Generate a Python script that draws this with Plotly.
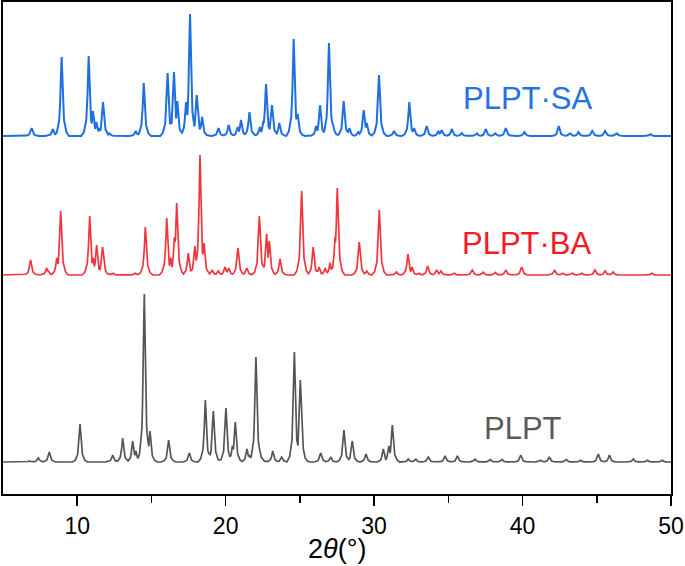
import numpy as np
import plotly.graph_objects as go

# ---- data (2θ in degrees, intensity in arbitrary units) ----
sa_pos = [6.93, 8.35, 8.95, 10.77, 11.06, 11.29, 11.49, 11.74, 12.16, 13.94, 14.48, 16.09, 16.52, 16.74,
          17.1, 17.33, 17.6, 18.05, 18.41, 19.51, 20.2, 20.81, 21.03, 21.6, 22.3, 22.54, 22.72, 23.12,
          23.61, 24.58, 24.85, 26.09, 26.36, 26.96, 27.25, 27.95, 28.33, 28.94, 29.3, 29.5, 30.33,
          31.34, 32.37, 32.69, 33.54, 34.33, 34.55, 35.23, 35.9, 36.91, 37.52, 38.15, 38.87, 40.12,
          42.44, 43.2, 43.76, 44.7, 45.56, 46.35, 48.6]
sa_int = [8, 7, 79, 80, 25, 14, 8, 34, 3, 5, 53, 63, 64, 35,
          3, 34, 122, 41, 19, 8, 11, 9, 16, 24, 9, 15, 52, 31,
          13, 97, 22, 10, 31, 93, 10, 35, 8, 4, 26, 13, 61,
          5, 34, 8, 10, 5, 6, 7, 3, 3, 7, 3, 8, 4,
          10, 3, 4, 5, 5, 3, 2]

ba_pos = [6.86, 7.94, 8.05, 8.62, 8.89, 10.84, 11.08, 11.31, 11.71, 12.4, 13.9, 14.59, 16.03, 16.3,
          16.55, 16.7, 17.48, 17.93, 18.27, 18.54, 19.08, 19.5, 19.96, 20.2, 20.83, 21.42, 22.27,
          22.76, 22.94, 23.66, 25.12, 25.9, 26.29, 26.7, 27.03, 27.37, 27.52, 29.0, 29.5, 30.35,
          31.5, 32.28, 32.55, 33.0, 33.61, 34.21, 34.5, 35.4, 36.61, 37.35, 38.15, 38.87, 39.94,
          42.15, 42.7, 43.35, 44.0, 44.88, 45.56, 46.1, 48.7]
ba_int = [15, 7, 4, 17, 64, 59, 17, 30, 28, 2, 2, 48, 57, 17,
          38, 72, 22, 29, 120, 32, 5, 4, 8, 7, 27, 7, 59,
          41, 34, 16, 84, 28, 8, 7, 12, 38, 87, 33, 4, 65,
          3, 21, 8, 2, 9, 5, 4, 2, 5, 3, 3, 5, 8,
          5, 2, 2, 2, 5, 4, 3, 2]

plpt_pos = [6.77, 7.38, 8.12, 10.19, 12.39, 13.06, 13.74, 13.95, 14.52, 14.9, 16.16, 17.55, 18.63,
            19.17, 20.02, 20.45, 20.65, 21.44, 21.6, 22.04, 22.45, 23.17, 23.77, 24.63, 25.03, 25.2,
            26.4, 27.07, 27.97, 28.53, 29.45, 30.62, 31.0, 31.23, 32.3, 32.8, 33.65, 34.78, 35.61,
            36.8, 37.81, 38.6, 39.88, 41.2, 41.8, 42.93, 43.9, 45.1, 45.85, 47.46, 48.4, 49.4]
plpt_int = [1, 4, 10, 38, 7, 24, 21, 11, 168, 31, 22, 9, 62,
            51, 54, 16, 40, 13, 7, 105, 4, 11, 5, 110, 82, 14,
            9, 5, 32, 21, 8, 13, 16, 37, 3, 3, 5, 6, 6,
            3, 3, 3, 7, 2, 5, 3, 2, 8, 7, 3, 2, 2]

offsets = {"PLPT·SA": 358, "PLPT·BA": 219, "PLPT": 32}
labels = ["PLPT·SA", "PLPT·BA", "PLPT"]
x_ticks = [10, 20, 30, 40, 50]
x_minor = [15, 25, 35, 45]

# ---- peak shape (style) ----
shape_dx = np.array([-0.5, -0.32, -0.16, -0.08, -0.03, 0, 0.03, 0.08, 0.16, 0.32, 0.5])
shape_rel = np.array([0, 0.05, 0.2, 0.5, 0.86, 1, 0.86, 0.5, 0.2, 0.05, 0])


def profile(pos, inten, base):
    pos = np.asarray(pos, float)
    inten = np.asarray(inten, float)
    xs = np.unique(np.concatenate([[5.0, 50.0], (pos[:, None] + shape_dx[None, :]).ravel()]))
    xs = xs[(xs >= 5) & (xs <= 50)]
    ys = np.zeros_like(xs)
    for p, h in zip(pos, inten):
        ys = np.maximum(ys, h * np.interp(xs, p + shape_dx, shape_rel, left=0, right=0))
    return xs, ys + base


colors = {"PLPT·SA": "#1f6fe0", "PLPT·BA": "#f2353d", "PLPT": "#555555"}
text_colors = {"PLPT·SA": "#2472e2", "PLPT·BA": "#f41c22", "PLPT": "#5a5a5a"}
widths = {"PLPT·SA": 2, "PLPT·BA": 1.7, "PLPT": 1.7}
series = {"PLPT·SA": (sa_pos, sa_int), "PLPT·BA": (ba_pos, ba_int), "PLPT": (plpt_pos, plpt_int)}
label_pos = {"PLPT·SA": (40.37, 396), "PLPT·BA": (40.3, 251), "PLPT": (40.03, 66)}

fig = go.Figure()
for name in labels:
    xs, ys = profile(*series[name], offsets[name])
    fig.add_trace(go.Scatter(x=xs, y=ys, mode="lines", name=name,
                             line=dict(color=colors[name], width=widths[name]),
                             showlegend=False, hoverinfo="skip"))
    lx, ly = label_pos[name]
    fig.add_annotation(x=lx, y=ly, text=name, showarrow=False, xanchor="center", yanchor="middle",
                       font=dict(size=31, color=text_colors[name], family="Liberation Sans, Arial"))

# axis title
fig.add_annotation(x=0.5, y=-0.112, xref="paper", yref="paper", text="2<i>θ</i>(°)",
                   showarrow=False, xanchor="center", yanchor="middle",
                   font=dict(size=27, color="black", family="Liberation Sans, Arial"))

fig.update_layout(
    width=685, height=566,
    margin=dict(l=3, r=14, t=2, b=72),
    paper_bgcolor="white", plot_bgcolor="white",
    font=dict(family="Liberation Sans, Arial", color="black"),
    xaxis=dict(range=[5, 50], tickvals=x_ticks, ticks="outside", ticklen=10, tickwidth=1.6,
               tickcolor="black", showline=True, linewidth=2, linecolor="black", mirror=True,
               showgrid=False, zeroline=False, tickfont=dict(size=23), automargin=False,
               minor=dict(tickvals=x_minor, ticks="outside", ticklen=7, tickwidth=1.6,
                          tickcolor="black", showgrid=False)),
    yaxis=dict(range=[0, 492], showticklabels=False, ticks="", showline=True, linewidth=2,
               linecolor="black", mirror=True, showgrid=False, zeroline=False, automargin=False),
)

fig.write_html("out.html", config={"displayModeBar": False, "staticPlot": True},
               post_script="document.body.style.margin='0';document.body.style.overflow='hidden';")
